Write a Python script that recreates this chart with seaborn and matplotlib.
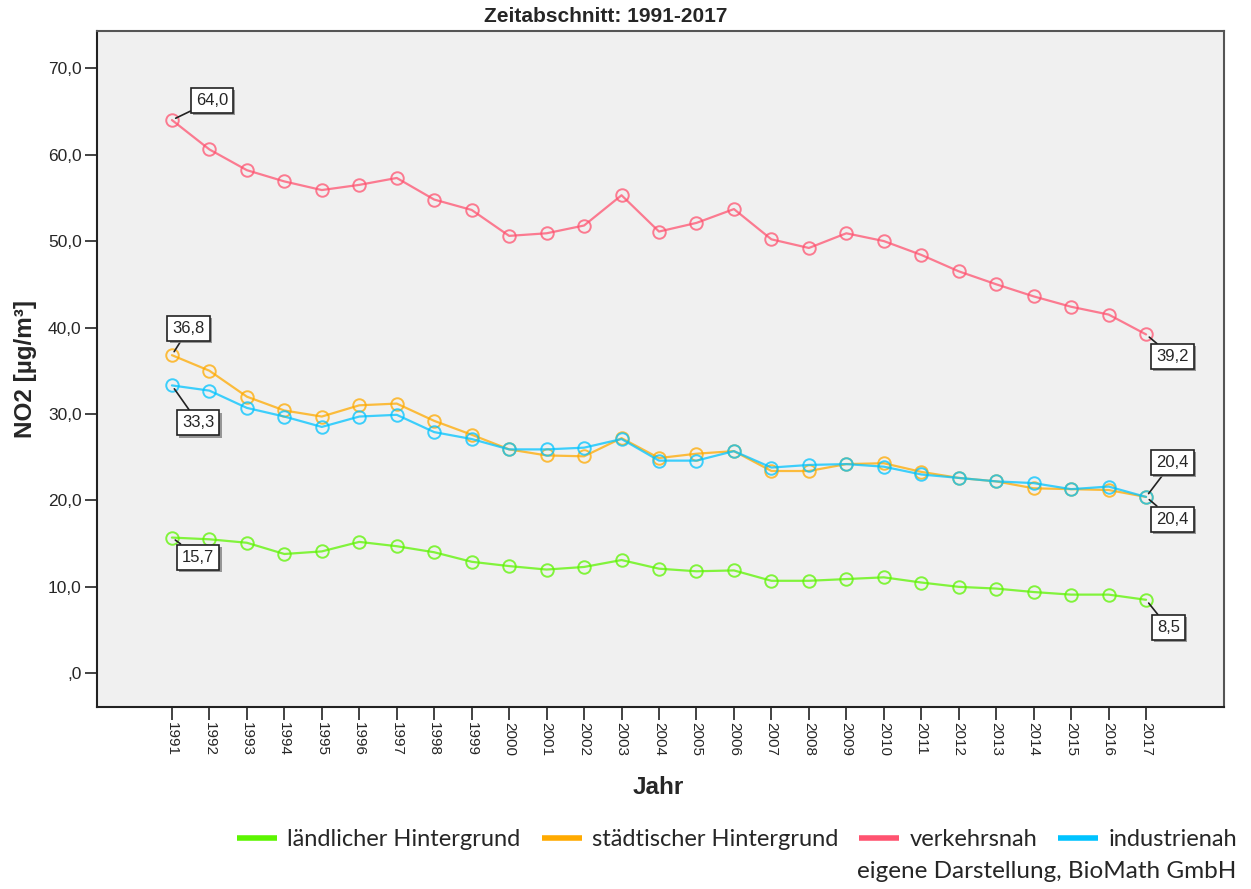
import numpy as np
import pandas as pd
import matplotlib
matplotlib.use("Agg")
import matplotlib.pyplot as plt
import matplotlib.patheffects as pe
from matplotlib.lines import Line2D
import seaborn as sns

# data
years = list(range(1991, 2018))
laendlich = [15.7, 15.5, 15.1, 13.8, 14.1, 15.2, 14.7, 14.0, 12.9, 12.4, 12.0, 12.3, 13.1,
             12.1, 11.8, 11.9, 10.7, 10.7, 10.9, 11.1, 10.5, 10.0, 9.8, 9.4, 9.1, 9.1, 8.5]
staedtisch = [36.8, 35.0, 32.0, 30.4, 29.7, 31.0, 31.2, 29.2, 27.6, 25.9, 25.2, 25.1, 27.2,
              24.9, 25.4, 25.7, 23.4, 23.4, 24.2, 24.3, 23.3, 22.6, 22.2, 21.4, 21.3, 21.2, 20.4]
verkehr = [64.0, 60.6, 58.2, 56.9, 55.9, 56.5, 57.3, 54.8, 53.6, 50.6, 50.9, 51.8, 55.3,
           51.1, 52.1, 53.7, 50.2, 49.2, 50.9, 50.0, 48.4, 46.5, 45.0, 43.6, 42.4, 41.5, 39.2]
industrie = [33.3, 32.7, 30.7, 29.7, 28.5, 29.7, 29.9, 27.9, 27.1, 25.9, 25.9, 26.1, 27.1,
             24.6, 24.6, 25.7, 23.8, 24.1, 24.2, 23.9, 23.0, 22.6, 22.2, 22.0, 21.3, 21.6, 20.4]

series_names = ["ländlicher Hintergrund", "städtischer Hintergrund", "verkehrsnah", "industrienah"]
series_values = [laendlich, staedtisch, verkehr, industrie]
colors = ["#5CF500", "#FFAA00", "#FF5370", "#00C3FF"]

sns.set_style("white")
plt.rcParams["font.family"] = ["Liberation Sans", "DejaVu Sans"]

fig = plt.figure(figsize=(12.51, 8.89), dpi=100)
ax = fig.add_axes([97 / 1251, 1 - 707 / 889, (1224 - 97) / 1251, (707 - 31) / 889])
ax.set_facecolor("#F0F0F0")

for name, vals, c in zip(series_names, series_values, colors):
    df = pd.DataFrame({"Jahr": years, "NO2": vals})
    sns.lineplot(data=df, x="Jahr", y="NO2", ax=ax, color=c, alpha=0.75, linewidth=1.6,
                 marker="o", markersize=9, markerfacecolor="none", markeredgecolor=c,
                 markeredgewidth=1.4)

# value labels at first and last year
def fmt(v):
    return f"{v:.1f}".replace(".", ",")

labels = [
    (years[0], verkehr[0], (29, 14)),
    (years[0], staedtisch[0], (12, 19)),
    (years[0], industrie[0], (19, -27)),
    (years[0], laendlich[0], (19, -14)),
    (years[-1], verkehr[-1], (19, -16)),
    (years[-1], industrie[-1], (19, 25)),
    (years[-1], staedtisch[-1], (19, -16)),
    (years[-1], laendlich[-1], (16, -20)),
]
for x, y, off in labels:
    ann = ax.annotate(fmt(y), xy=(x, y), xytext=off, textcoords="offset points",
                      ha="center", va="center", fontsize=12,
                      bbox=dict(boxstyle="square,pad=0.3", fc="white", ec="#222222", lw=1.2),
                      arrowprops=dict(arrowstyle="-", color="#222222", lw=1.2,
                                      shrinkA=0, shrinkB=3))
    ann.get_bbox_patch().set_path_effects([
        pe.SimplePatchShadow(offset=(1.5, -1.5), shadow_rgbFace="#808080", alpha=0.8),
        pe.Normal()])

ax.set_xlim(1989.0, 2019.08)
ax.set_ylim(-3.9, 74.3)
ax.set_xticks(years)
ax.set_xticklabels([str(y) for y in years], rotation=-90, fontsize=11)
yt = np.arange(0, 71, 10)
ax.set_yticks(yt)
ax.set_yticklabels([",0" if v == 0 else f"{v},0" for v in yt], fontsize=12.5)
ax.tick_params(axis="both", direction="out", length=9, width=1.2, color="#222222",
               left=True, bottom=True, pad=2)
for s in ax.spines.values():
    s.set_color("#555555")
    s.set_linewidth(1.5)
ax.spines["left"].set_color("#222222")
ax.spines["bottom"].set_color("#222222")

ax.set_xlabel("")
ax.set_ylabel("NO2 [µg/m³]", fontsize=17.5, fontweight="bold", labelpad=8)
fig.text(658 / 1251, 1 - 787 / 889, "Jahr", ha="center", va="center", fontsize=17.5, fontweight="bold")
fig.text(606 / 1251, 1 - 17 / 889, "Zeitabschnitt: 1991-2017", ha="center", va="center",
         fontsize=15, fontweight="bold")

handles = [Line2D([0], [0], color=c, lw=4, solid_capstyle="butt") for c in colors]
fig.legend(handles, series_names, loc="center right", bbox_to_anchor=(1237 / 1251, 1 - 840 / 889),
           ncol=4, frameon=False, handlelength=1.7, handletextpad=0.42, columnspacing=0.9,
           borderpad=0, borderaxespad=0, prop={"family": "Lato", "size": 17})
fig.text(1236 / 1251, 1 - 872 / 889, "eigene Darstellung, BioMath GmbH", ha="right", va="center",
         fontsize=17.5, family="Lato")

fig.savefig("out.png", dpi=100)
